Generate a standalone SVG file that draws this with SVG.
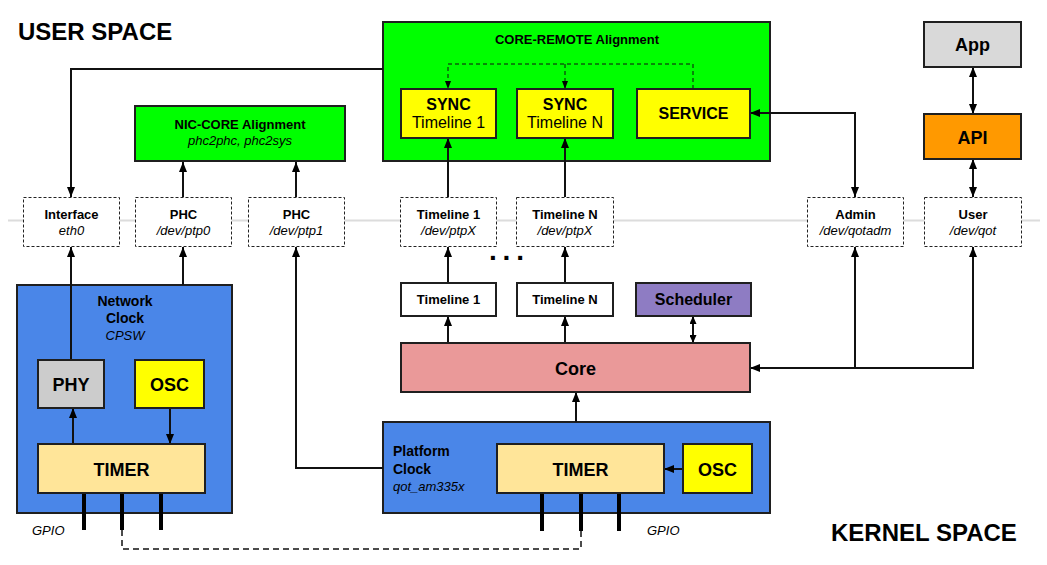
<svg xmlns="http://www.w3.org/2000/svg" width="1047" height="565" viewBox="0 0 1047 565">
  <style>
    text { font-family: "Liberation Sans", Arial, sans-serif; fill: #000; }
    .b { font-weight: bold; }
    .i { font-style: italic; }
    .c { text-anchor: middle; }
    .box { stroke: #1f1f1f; stroke-width: 2; }
    .dash { fill: #fff; stroke: #222; stroke-width: 1; stroke-dasharray: 3 2; }
    .ln { fill: none; stroke: #111; stroke-width: 2; }
    .dl { fill: none; stroke: #111; stroke-width: 1; stroke-dasharray: 4 3; }
    .pin { stroke: #000; stroke-width: 4; }
    .gd { fill: none; stroke: #111; stroke-width: 1.5; stroke-dasharray: 6 4; }
  </style>
  <defs>
    <marker id="ah" viewBox="0 0 10 8" refX="10" refY="4" markerWidth="10" markerHeight="8" markerUnits="userSpaceOnUse" orient="auto-start-reverse">
      <path d="M0,0 L10,4 L0,8 z" fill="#000"/>
    </marker>
    <marker id="ahs" viewBox="0 0 8 6" refX="8" refY="3" markerWidth="8" markerHeight="6" markerUnits="userSpaceOnUse" orient="auto-start-reverse">
      <path d="M0,0 L8,3 L0,6 z" fill="#000"/>
    </marker>
    <marker id="ahm" viewBox="0 0 8 7" refX="8" refY="3.5" markerWidth="8" markerHeight="7" markerUnits="userSpaceOnUse" orient="auto-start-reverse">
      <path d="M0,0 L8,3.5 L0,7 z" fill="#000"/>
    </marker>
  </defs>

  <rect width="1047" height="565" fill="#fff"/>

  <!-- user / kernel boundary -->
  <line x1="8" y1="220.5" x2="1040" y2="220.5" stroke="#dcdcdc" stroke-width="2"/>

  <text class="b" x="18" y="40" font-size="24">USER SPACE</text>
  <text class="b" x="831" y="541" font-size="24">KERNEL SPACE</text>

  <!-- large containers -->
  <g id="core-remote">
    <rect class="box" x="383" y="22" width="387" height="139" fill="#00ff00"/>
    <text class="b c" x="577" y="44" font-size="13">CORE-REMOTE Alignment</text>
  </g>
  <g id="network-clock">
    <rect class="box" x="17" y="285" width="215" height="228" fill="#4a86e8"/>
    <text class="b c" x="125" y="306" font-size="14">Network</text>
    <text class="b c" x="125" y="323" font-size="14">Clock</text>
    <text class="i c" x="125" y="340" font-size="13">CPSW</text>
  </g>
  <g id="platform-clock">
    <rect class="box" x="383" y="422" width="387" height="91" fill="#4a86e8"/>
    <text class="b" x="393" y="456" font-size="14">Platform</text>
    <text class="b" x="393" y="474" font-size="14">Clock</text>
    <text class="i" x="393" y="491" font-size="13">qot_am335x</text>
  </g>

  <!-- connectors -->
  <g id="connectors">
    <path class="ln" d="M383,69 H71 V197" marker-end="url(#ah)"/>
    <path class="ln" d="M71,360 V247" marker-end="url(#ah)"/>
    <path class="ln" d="M183,285 V247" marker-end="url(#ah)"/>
    <path class="ln" d="M183,197 V162" marker-end="url(#ah)"/>
    <path class="ln" d="M296,197 V162" marker-end="url(#ah)"/>
    <path class="ln" d="M383,468 H296 V247" marker-end="url(#ah)"/>
    <path class="ln" d="M73,444 V408" marker-end="url(#ah)"/>
    <path class="ln" d="M170,408 V444" marker-end="url(#ah)"/>
    <path class="ln" d="M683,469 H664" marker-end="url(#ah)"/>
    <path class="ln" d="M576,422 V392" marker-end="url(#ah)"/>
    <path class="ln" d="M448,343 V316" marker-end="url(#ah)"/>
    <path class="ln" d="M565,343 V316" marker-end="url(#ah)"/>
    <path class="ln" d="M448,283 V247" marker-end="url(#ah)"/>
    <path class="ln" d="M565,283 V247" marker-end="url(#ah)"/>
    <path class="ln" d="M448,197 V138" marker-end="url(#ah)"/>
    <path class="ln" d="M565,197 V138" marker-end="url(#ah)"/>
    <path class="ln" d="M693,316 V343" marker-start="url(#ahm)" marker-end="url(#ahm)"/>
    <path class="ln" d="M750,113 H855 V197" marker-start="url(#ah)" marker-end="url(#ah)"/>
    <path class="ln" d="M855,247 V368 H750" marker-start="url(#ah)" marker-end="url(#ah)"/>
    <path class="ln" d="M973,247 V368 H855" marker-start="url(#ah)"/>
    <path class="ln" d="M973,67 V114" marker-start="url(#ah)" marker-end="url(#ah)"/>
    <path class="ln" d="M973,159 V197" marker-start="url(#ah)" marker-end="url(#ah)"/>
    <path class="dl" d="M693,89 V64 H448 V89" marker-end="url(#ahs)"/>
    <path class="dl" d="M565,64 V89" marker-end="url(#ahs)"/>
    <path class="gd" d="M122,530 V549 H581 V531"/>
  </g>

  <!-- user space nodes -->
  <g id="nic-core">
    <rect class="box" x="135" y="106" width="210" height="55" fill="#00ff00"/>
    <text class="b c" x="240" y="129" font-size="13">NIC-CORE Alignment</text>
    <text class="i c" x="240" y="145" font-size="13">phc2phc, phc2sys</text>
  </g>
  <g id="sync-1">
    <rect class="box" x="401" y="89" width="95" height="49" fill="#ffff00"/>
    <text class="b c" x="448.5" y="110" font-size="16">SYNC</text>
    <text class="c" x="448.5" y="128" font-size="16">Timeline 1</text>
  </g>
  <g id="sync-n">
    <rect class="box" x="517" y="89" width="96" height="49" fill="#ffff00"/>
    <text class="b c" x="565" y="110" font-size="16">SYNC</text>
    <text class="c" x="565" y="128" font-size="16">Timeline N</text>
  </g>
  <g id="service">
    <rect class="box" x="637" y="89" width="113" height="49" fill="#ffff00"/>
    <text class="b c" x="693.5" y="119" font-size="16">SERVICE</text>
  </g>
  <g id="app">
    <rect class="box" x="924" y="22" width="97" height="45" fill="#d9d9d9"/>
    <text class="b c" x="972.5" y="51" font-size="18">App</text>
  </g>
  <g id="api">
    <rect class="box" x="924" y="114" width="97" height="45" fill="#ff9900"/>
    <text class="b c" x="972.5" y="144" font-size="18">API</text>
  </g>

  <!-- device files -->
  <g id="dev-interface">
    <rect class="dash" x="23.5" y="197.5" width="96" height="49"/>
    <text class="b c" x="71.5" y="219" font-size="13">Interface</text>
    <text class="i c" x="71.5" y="235" font-size="13">eth0</text>
  </g>
  <g id="dev-ptp0">
    <rect class="dash" x="135.5" y="197.5" width="96" height="49"/>
    <text class="b c" x="183.5" y="219" font-size="13">PHC</text>
    <text class="i c" x="183.5" y="235" font-size="13">/dev/ptp0</text>
  </g>
  <g id="dev-ptp1">
    <rect class="dash" x="248.5" y="197.5" width="96" height="49"/>
    <text class="b c" x="296.5" y="219" font-size="13">PHC</text>
    <text class="i c" x="296.5" y="235" font-size="13">/dev/ptp1</text>
  </g>
  <g id="dev-timeline-1">
    <rect class="dash" x="400.5" y="197.5" width="96" height="49"/>
    <text class="b c" x="448.5" y="219" font-size="13">Timeline 1</text>
    <text class="i c" x="448.5" y="235" font-size="13">/dev/ptpX</text>
  </g>
  <g id="dev-timeline-n">
    <rect class="dash" x="516.5" y="197.5" width="97" height="49"/>
    <text class="b c" x="565" y="219" font-size="13">Timeline N</text>
    <text class="i c" x="565" y="235" font-size="13">/dev/ptpX</text>
  </g>
  <g id="dev-admin">
    <rect class="dash" x="807.5" y="197.5" width="96" height="49"/>
    <text class="b c" x="855.5" y="219" font-size="13">Admin</text>
    <text class="i c" x="855.5" y="235" font-size="13">/dev/qotadm</text>
  </g>
  <g id="dev-user">
    <rect class="dash" x="924.5" y="197.5" width="97" height="49"/>
    <text class="b c" x="973" y="219" font-size="13">User</text>
    <text class="i c" x="973" y="235" font-size="13">/dev/qot</text>
  </g>

  <text class="b" x="489" y="260" font-size="28" letter-spacing="5.8">...</text>

  <!-- kernel nodes -->
  <g id="timeline-1">
    <rect class="box" x="401" y="283" width="95" height="33" fill="#fff"/>
    <text class="b c" x="448.5" y="304" font-size="13">Timeline 1</text>
  </g>
  <g id="timeline-n">
    <rect class="box" x="517" y="283" width="96" height="33" fill="#fff"/>
    <text class="b c" x="565" y="304" font-size="13">Timeline N</text>
  </g>
  <g id="scheduler">
    <rect class="box" x="636" y="283" width="115" height="33" fill="#8e7cc3"/>
    <text class="b c" x="693.5" y="305" font-size="16">Scheduler</text>
  </g>
  <g id="core">
    <rect class="box" x="401" y="343" width="349" height="49" fill="#ea9999"/>
    <text class="b c" x="575.5" y="375" font-size="18">Core</text>
  </g>

  <g id="phy">
    <rect class="box" x="38" y="360" width="66" height="48" fill="#cccccc"/>
    <text class="b c" x="71" y="391" font-size="18">PHY</text>
  </g>
  <g id="osc-network">
    <rect class="box" x="135" y="360" width="69" height="48" fill="#ffff00"/>
    <text class="b c" x="169.5" y="391" font-size="18">OSC</text>
  </g>
  <g id="timer-network">
    <rect class="box" x="38" y="444" width="167" height="49" fill="#ffe599"/>
    <text class="b c" x="121.5" y="476" font-size="18">TIMER</text>
  </g>
  <g id="timer-platform">
    <rect class="box" x="497" y="444" width="167" height="49" fill="#ffe599"/>
    <text class="b c" x="580.5" y="476" font-size="18">TIMER</text>
  </g>
  <g id="osc-platform">
    <rect class="box" x="683" y="444" width="69" height="49" fill="#ffff00"/>
    <text class="b c" x="717.5" y="476" font-size="18">OSC</text>
  </g>

  <!-- GPIO pins -->
  <g id="gpio-network">
    <line class="pin" x1="84" y1="494" x2="84" y2="530"/>
    <line class="pin" x1="122" y1="494" x2="122" y2="530"/>
    <line class="pin" x1="161" y1="494" x2="161" y2="530"/>
    <text class="i" x="32" y="535" font-size="13">GPIO</text>
  </g>
  <g id="gpio-platform">
    <line class="pin" x1="542" y1="494" x2="542" y2="531"/>
    <line class="pin" x1="581" y1="494" x2="581" y2="531"/>
    <line class="pin" x1="619" y1="494" x2="619" y2="531"/>
    <text class="i" x="647" y="535" font-size="13">GPIO</text>
  </g>
</svg>
